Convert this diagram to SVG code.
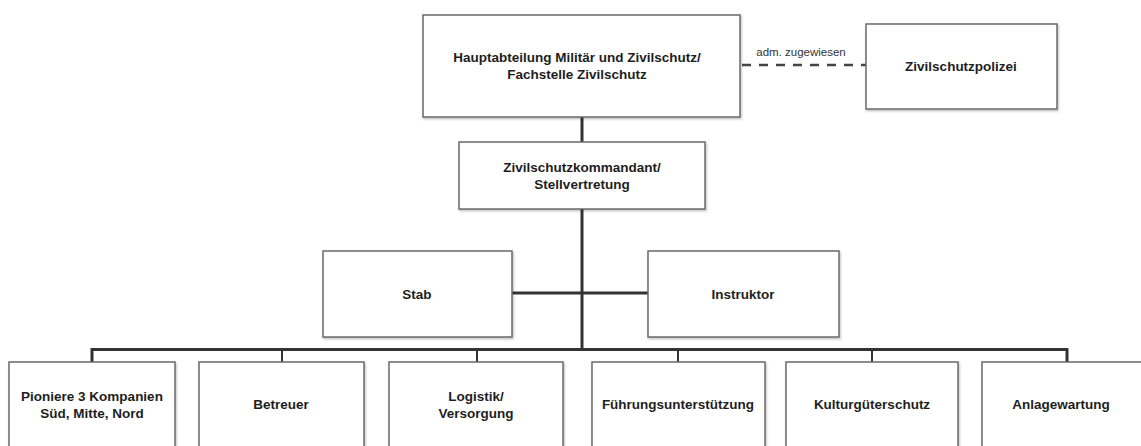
<svg xmlns="http://www.w3.org/2000/svg" width="1141" height="446" viewBox="0 0 1141 446">
<defs>
<filter id="sh" x="-5%" y="-5%" width="110%" height="115%">
<feDropShadow dx="1" dy="1.5" stdDeviation="1" flood-color="#000" flood-opacity="0.25"/>
</filter>
</defs>
<style>
.box{fill:#fff;stroke:#6a6a6a;stroke-width:1.5;filter:url(#sh)}
.t{font-family:"Liberation Sans",Arial,sans-serif;font-weight:bold;font-size:13.5px;fill:#1e1e1e;text-anchor:middle;dominant-baseline:central}
.lbl{font-family:"Liberation Sans",Arial,sans-serif;font-size:11.5px;fill:#333;text-anchor:middle}
.main{stroke:#333;stroke-width:3;fill:none}
.drop{stroke:#333;stroke-width:2;fill:none}
.dash{stroke:#444;stroke-width:2.5;stroke-dasharray:9,8;fill:none}
</style>
<rect width="1141" height="446" fill="#fff"/>
<g id="connectors">
<line class="main" x1="582" y1="117" x2="582" y2="142"/>
<line class="main" x1="582" y1="209" x2="582" y2="350"/>
<line class="main" x1="512" y1="293" x2="648" y2="293"/>
<polyline class="main" points="92,362 92,349.5 1067,349.5 1067,362"/>
<line class="drop" x1="282" y1="349" x2="282" y2="362"/>
<line class="drop" x1="477" y1="349" x2="477" y2="362"/>
<line class="drop" x1="678" y1="349" x2="678" y2="362"/>
<line class="drop" x1="872" y1="349" x2="872" y2="362"/>
<line class="dash" x1="742" y1="65" x2="866" y2="65"/>
<text class="lbl" x="801" y="56">adm. zugewiesen</text>
</g>
<g id="hauptabteilung">
<rect class="box" x="423" y="15" width="317" height="102"/>
<text class="t" x="577" y="57">Hauptabteilung Militär und Zivilschutz/</text>
<text class="t" x="577" y="74">Fachstelle Zivilschutz</text>
</g>
<g id="zivilschutzpolizei">
<rect class="box" x="866" y="24" width="191" height="85"/>
<text class="t" x="961" y="66">Zivilschutzpolizei</text>
</g>
<g id="kommandant">
<rect class="box" x="459" y="142" width="246" height="67"/>
<text class="t" x="582" y="167">Zivilschutzkommandant/</text>
<text class="t" x="582" y="184">Stellvertretung</text>
</g>
<g id="stab">
<rect class="box" x="323" y="251" width="189" height="86"/>
<text class="t" x="417" y="294">Stab</text>
</g>
<g id="instruktor">
<rect class="box" x="648" y="251" width="191" height="86"/>
<text class="t" x="743" y="294">Instruktor</text>
</g>
<g id="pioniere">
<rect class="box" x="9" y="362" width="166" height="90"/>
<text class="t" x="92" y="396">Pioniere 3 Kompanien</text>
<text class="t" x="92" y="413">Süd, Mitte, Nord</text>
</g>
<g id="betreuer">
<rect class="box" x="199" y="362" width="165" height="90"/>
<text class="t" x="281" y="404">Betreuer</text>
</g>
<g id="logistik">
<rect class="box" x="389" y="362" width="174" height="90"/>
<text class="t" x="476" y="396">Logistik/</text>
<text class="t" x="476" y="413">Versorgung</text>
</g>
<g id="fuehrung">
<rect class="box" x="592" y="362" width="173" height="90"/>
<text class="t" x="678" y="404">Führungsunterstützung</text>
</g>
<g id="kulturgueter">
<rect class="box" x="786" y="362" width="172" height="90"/>
<text class="t" x="872" y="404">Kulturgüterschutz</text>
</g>
<g id="anlagewartung">
<rect class="box" x="982" y="362" width="160" height="90"/>
<text class="t" x="1061" y="404">Anlagewartung</text>
</g>
</svg>
